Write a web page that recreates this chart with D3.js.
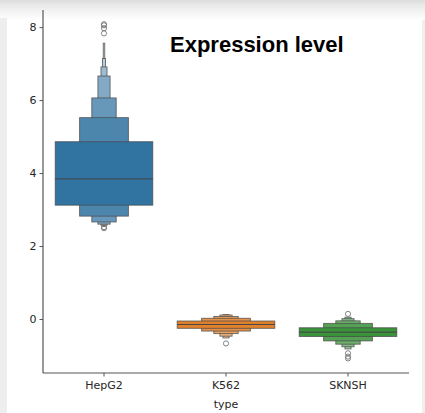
<!DOCTYPE html>
<html>
<head>
<meta charset="utf-8">
<script src="https://d3js.org/d3.v7.min.js"></script>
<style>
  body { margin: 0; background: #fff; }
  svg { display: block; }
</style>
</head>
<body>
<div id="chart"></div>
<script>
// categories and palette
const types = ['HepG2', 'K562', 'SKNSH']
const colors = ['#3274a1', '#e1812c', '#3a923a']

// letter-value boxes, outermost last: [upper, lower]
const hepg2Levels = [[4.86, 3.12], [5.52, 2.82], [6.06, 2.66], [6.66, 2.60], [6.91, 2.57], [7.14, 2.55], [7.56, 2.54]]
const k562Levels = [[-0.055, -0.255], [0.02, -0.33], [0.07, -0.40], [0.11, -0.47], [0.12, -0.52]]
const sknshLevels = [[-0.24, -0.48], [-0.12, -0.60], [-0.05, -0.69], [0.01, -0.76], [0.05, -0.82]]
const medians = [3.84, -0.15, -0.36]

const hepg2Outliers = [7.83, 7.97, 8.05, 8.08, 2.49, 2.52]
const k562Outliers = [-0.67]
const sknshOutliers = [0.14, -0.94, -1.03, -1.08]

const yTicks = [0, 2, 4, 6, 8]

const levels = [hepg2Levels, k562Levels, sknshLevels]
const outliers = [hepg2Outliers, k562Outliers, sknshOutliers]

const width = 425, height = 413
const margin = {left: 43, right: 16, top: 10, bottom: 40}

const svg = d3.select('#chart').append('svg').attr('width', width).attr('height', height)

// screenshot frame
const grad = svg.append('defs').append('linearGradient').attr('id', 'topband').attr('x1', 0).attr('x2', 0).attr('y1', 0).attr('y2', 1)
grad.append('stop').attr('offset', '0%').attr('stop-color', '#dcdcdc')
grad.append('stop').attr('offset', '30%').attr('stop-color', '#ebebeb')
grad.append('stop').attr('offset', '100%').attr('stop-color', '#ffffff')
svg.append('rect').attr('width', width).attr('height', height).attr('fill', '#efefef')
svg.append('rect').attr('x', 7).attr('y', 0).attr('width', 415).attr('height', height).attr('fill', '#fff')
svg.append('rect').attr('x', 0).attr('y', 0).attr('width', width).attr('height', 20).attr('fill', 'url(#topband)')
svg.append('rect').attr('x', 0).attr('y', 18).attr('width', 7).attr('height', height).attr('fill', '#eeeeee')

const x = d3.scaleBand(types, [margin.left, width - margin.right])
const y = d3.scaleLinear([-1.48, 8.47], [height - margin.bottom, margin.top])

const boxW = x.bandwidth() * 0.8

const g = svg.append('g')
types.forEach((t, i) => {
  const cx = x(t) + x.bandwidth() / 2
  const lv = levels[i]
  const light = d3.interpolateRgb(colors[i], '#ffffff')
  // draw outer (narrow) levels first so the wide box sits on top
  for (let k = lv.length - 1; k >= 0; k--) {
    const w = boxW / Math.pow(2, k)
    const [hi, lo] = lv[k]
    g.append('rect')
      .attr('x', cx - w / 2)
      .attr('y', y(hi))
      .attr('width', w)
      .attr('height', y(lo) - y(hi))
      .attr('fill', light(Math.min(k * 0.13, 0.7)))
      .attr('stroke', '#4a4a4a')
      .attr('stroke-opacity', 0.8)
      .attr('stroke-width', 0.9)
  }
  g.append('line')
    .attr('x1', cx - boxW / 2).attr('x2', cx + boxW / 2)
    .attr('y1', y(medians[i])).attr('y2', y(medians[i]))
    .attr('stroke', '#444').attr('stroke-width', 1)
  g.selectAll(null).data(outliers[i]).enter().append('circle')
    .attr('cx', cx).attr('cy', d => y(d)).attr('r', 2.6)
    .attr('fill', 'none').attr('stroke', '#777').attr('stroke-width', 0.9)
})

// axes
const yAxis = svg.append('g').attr('transform', `translate(${margin.left},0)`)
  .call(d3.axisLeft(y).tickValues(yTicks).tickSize(3.5).tickPadding(3))
const xAxis = svg.append('g').attr('transform', `translate(0,${height - margin.bottom})`)
  .call(d3.axisBottom(x).tickSize(3.5).tickPadding(5))
;[yAxis, xAxis].forEach(a => {
  a.select('.domain').attr('stroke', '#555').attr('stroke-width', 1.2)
  a.selectAll('.tick line').attr('stroke', '#555')
  a.selectAll('.tick text').attr('fill', '#262626').style('font-family', 'DejaVu Sans').style('font-size', '11px')
})
xAxis.select('.domain').attr('d', `M${margin.left},0H${width - margin.right}`)
yAxis.select('.domain').attr('d', `M0,${margin.top}V${height - margin.bottom}`)

svg.append('text').attr('x', x('K562') + x.bandwidth() / 2).attr('y', 408)
  .attr('text-anchor', 'middle').attr('fill', '#262626')
  .style('font-family', 'DejaVu Sans').style('font-size', '11px').text('type')

svg.append('text').attr('x', 170).attr('y', 52)
  .attr('fill', '#000').style('font-family', 'Liberation Sans').style('font-weight', 'bold')
  .style('font-size', '22px').text('Expression level')
</script>
</body>
</html>
